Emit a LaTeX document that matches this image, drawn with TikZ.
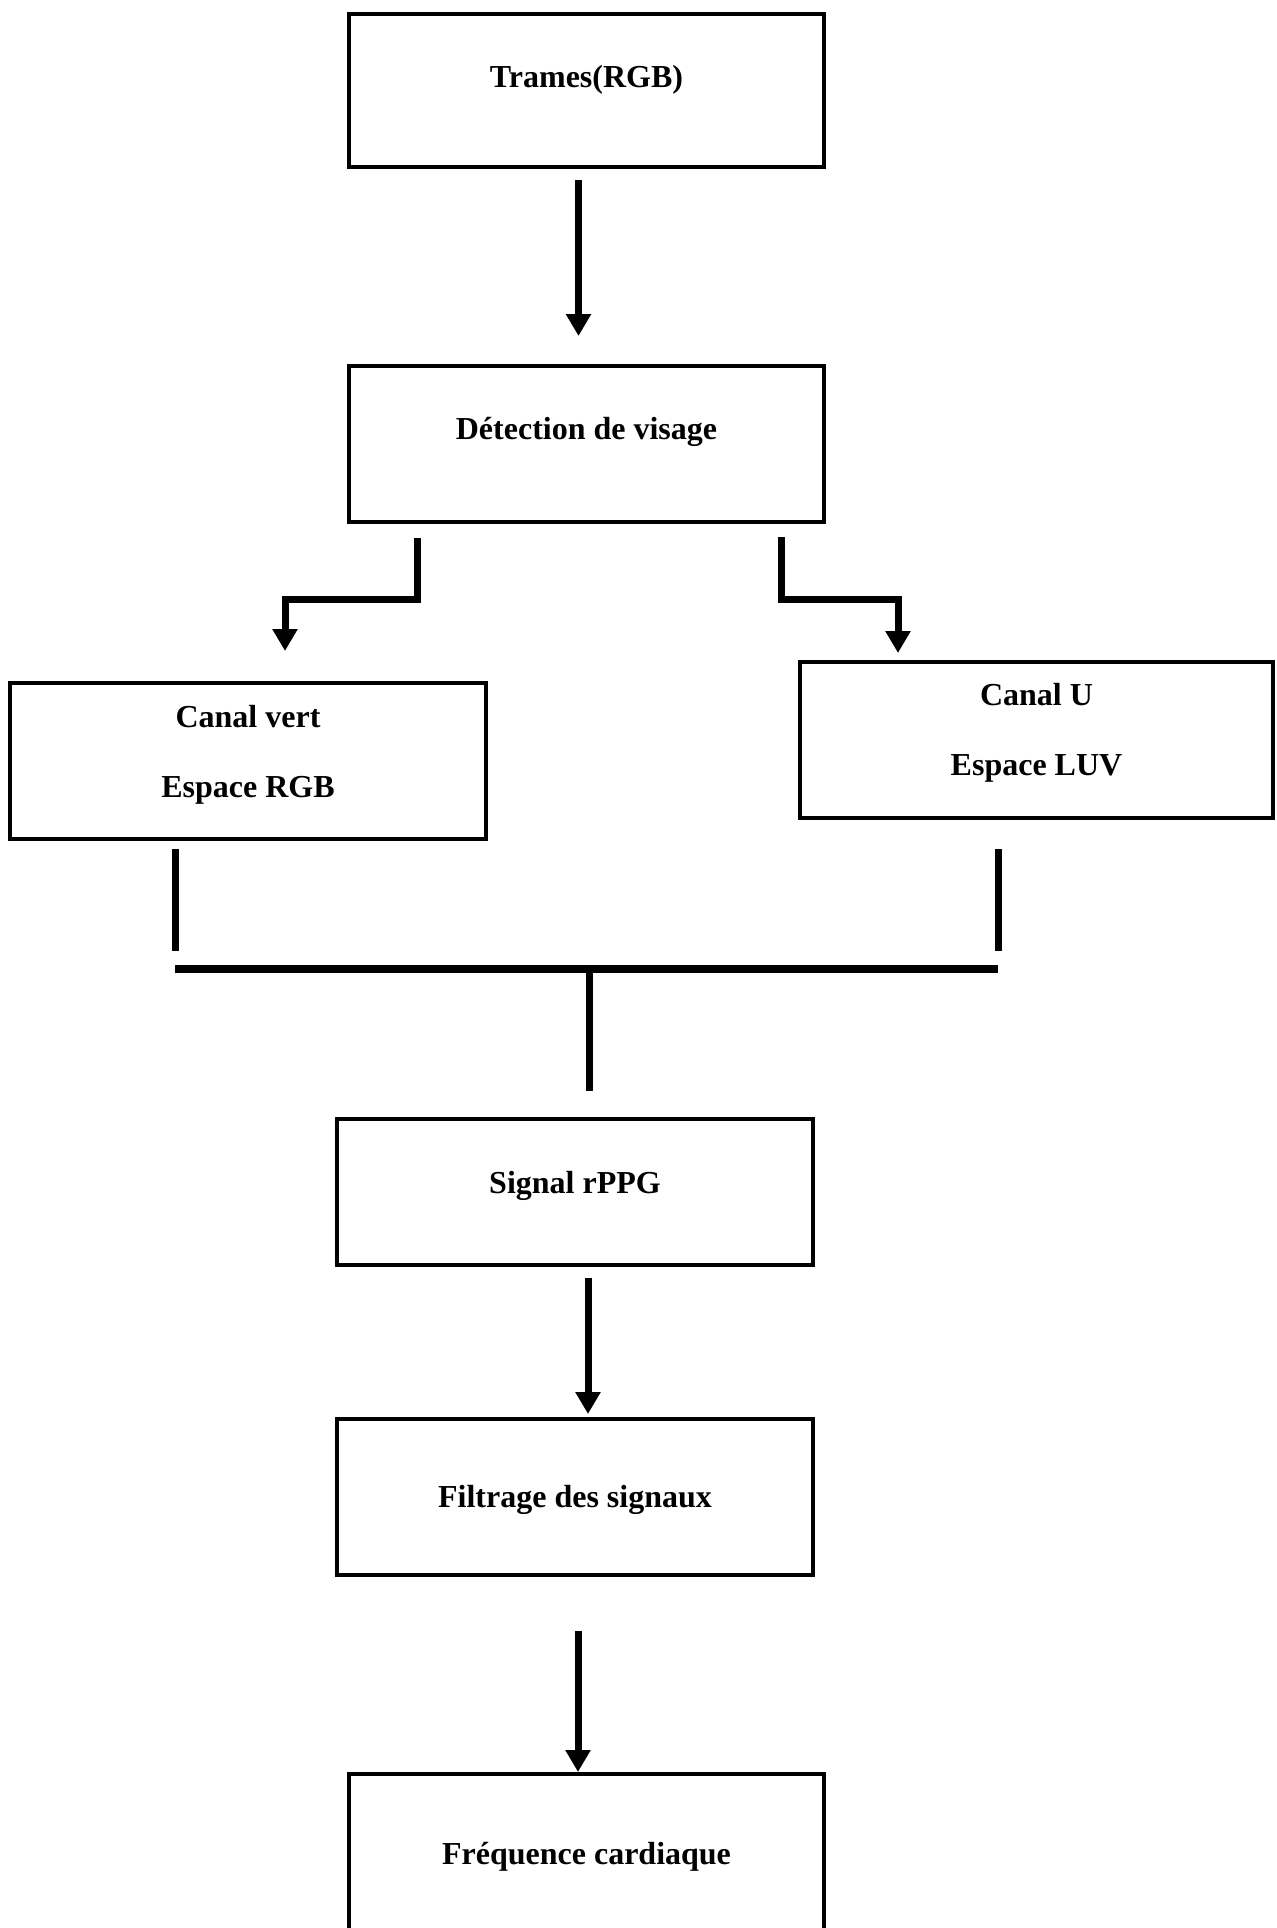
\documentclass[tikz,border=0pt]{standalone}
\usepackage{fontspec}
\setmainfont{Liberation Serif}
\usetikzlibrary{arrows.meta, positioning, calc}
\tikzset{
    stage/.style={rectangle, draw, line width=2pt, minimum width=237.5pt, inner sep=0pt, align=center, font=\fontsize{16pt}{35pt}\selectfont\bfseries},
    link/.style={line width=3.5pt, line join=miter},
    arrow/.style={link, -{Triangle[width=12pt,length=11pt]}}
}
\begin{document}
\begin{tikzpicture}[x=0.5pt, y=-0.5pt]
    \useasboundingbox (0,0) rectangle (1276,1928);
    % boites
    \node[stage, text height=36.5pt, text depth=40pt] (trames) at (586.5,90.5) {Trames(RGB)};
    \node[stage, text height=36.5pt, text depth=41.5pt] (visage) at (586.5,444) {Détection de visage};
    \node[stage, minimum width=238pt, text height=57pt, text depth=21pt] (vert) at (248,761) {Canal vert\\Espace RGB};
    \node[stage, minimum width=236.5pt, text height=56.5pt, text depth=21.5pt] (luv) at (1036.5,740) {Canal U\\Espace LUV};
    \node[stage, minimum width=238pt, text height=37pt, text depth=36pt] (rppg) at (575,1192) {Signal rPPG};
    \node[stage, minimum width=238pt, text height=44pt, text depth=34pt] (filtrage) at (575,1497) {Filtrage des signaux};
    \node[stage, text height=45pt, text depth=33pt] (freq) at (586.5,1852) {Fréquence cardiaque};
    % liaisons
    \draw[arrow] ($(trames.south)+(-8,11)$) -- ($(visage.north)+(-8,-28)$);
    \draw[arrow] ($(visage.south)+(-169.5,14)$) |- ($(vert.north)+(37,-82)$) -- ($(vert.north)+(37,-30)$);
    \draw[arrow] ($(visage.south)+(194.5,13)$) |- ($(luv.north)+(-138.5,-61)$) -- ($(luv.north)+(-138.5,-7)$);
    % jonction
    \draw[link] ($(vert.south)+(-73,8)$) -- ($(vert.south)+(-73,110)$);
    \draw[link] ($(luv.south)+(-38.5,29)$) -- ($(luv.south)+(-38.5,131)$);
    \coordinate (busL) at ($(vert.south)+(-73,128)$);
    \coordinate (busR) at ($(luv.south)+(-38.5,149)$);
    \draw[link, line width=4pt] (busL) -- (busR);
    \draw[link] ($(rppg.north)+(14,-152)$) -- ($(rppg.north)+(14,-26)$);
    \draw[arrow] ($(rppg.south)+(13,11)$) -- ($(filtrage.north)+(13,-3)$);
    \draw[arrow] ($(filtrage.south)+(3,54)$) -- ($(freq.north)+(-8.5,0)$);
\end{tikzpicture}
\end{document}
